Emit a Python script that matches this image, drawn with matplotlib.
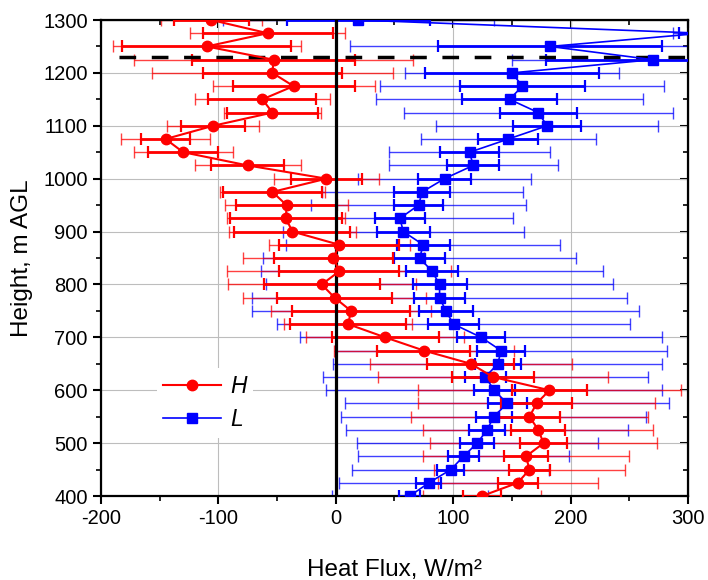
import matplotlib
matplotlib.use("Agg")
import matplotlib.pyplot as plt
from matplotlib.ticker import MultipleLocator

plt.rcParams['font.family'] = ['Liberation Sans', 'DejaVu Sans']
plt.rcParams['axes.unicode_minus'] = False

# heights (m AGL)
heights = [400, 425, 450, 475, 500, 525, 550, 575, 600, 625, 650, 675, 700,
           725, 750, 775, 800, 825, 850, 875, 900, 925, 950, 975, 1000,
           1025, 1050, 1075, 1100, 1125, 1150, 1175, 1200, 1225, 1250, 1275, 1300]

# H series (red)
h_flux = [124.5, 155, 165, 162, 177, 172.5, 165, 171, 182, 134, 115, 75, 42,
          10.5, 13, -1, -12, 3, -2, 3, -37, -42.5, -42, -54, -8,
          -75, -130, -145, -104.5, -54, -62.5, -36, -54, -53, -110, -58, -106]
h_err_in = [16.5, 17, 17.3, 19, 20, 23, 26, 30.6, 32, 35, 37, 39.5, 45.5,
            49.6, 50.4, 49, 49.3, 51, 51, 51, 49.5, 47.6, 43.4, 42, 30,
            31, 30, 20.6, 27.5, 39, 46, 52, 59, 69.4, 72, 55.5, 32]
h_err_out = [50, 68, 81, 88, 97, 98, 100.6, 101, 112, 97.7, 86, 76.5, 67,
             54.7, 68.5, 78, 80, 95.4, 77, 60, 54, 50, 52, 45, 44.6,
             45, 42, 38, 39, 41, 57.7, 69, 102.7, 119, 80, 66, 43]

# L series (blue)
l_flux = [63, 79.3, 98, 108.8, 120.4, 128.9, 134.5, 146, 135, 127.4, 138, 140.8, 123.8,
          100.3, 93.7, 88.4, 88.4, 82, 71.4, 74.5, 57.5, 54.6, 70.5, 73.6, 92.6,
          117, 114, 147, 180, 172.5, 148, 159, 150, 270, 182.4, 312, 19]
l_err_in = [9, 10.6, 11.5, 13, 14.5, 15.3, 15.3, 16.7, 17.3, 17.7, 19.4, 20.4, 20.5,
            22, 23, 22, 23, 22, 21.8, 22.4, 22.4, 21, 21, 23.7, 22.7,
            22.3, 25, 25.5, 29, 33, 40.5, 53, 74, 91, 95.5, 20, 61]
l_err_out = [66.6, 76.5, 84, 90, 102.6, 120, 130, 138, 143, 138.5, 140, 141.6, 154,
             150, 165, 160, 148, 145.6, 133, 116.6, 102.5, 96, 91.5, 85.5, 74,
             72, 68.5, 74.5, 94.6, 114.6, 113.6, 121, 91, 119.5, 170, 25, 115.5]

boundary_height = 1230

fig = plt.figure(figsize=(7.08, 5.8), dpi=100)
ax = fig.add_axes([0.1427, 0.1448, 0.829, 0.8207])

red = '#ff0000'
blue = '#0000ff'

# outer (thin) error bars
ax.errorbar(l_flux, heights, xerr=l_err_out, fmt='none', ecolor=blue, alpha=0.75,
            elinewidth=1.0, capsize=4, capthick=1.0, zorder=2)
ax.errorbar(h_flux, heights, xerr=h_err_out, fmt='none', ecolor=red, alpha=0.75,
            elinewidth=1.0, capsize=4, capthick=1.0, zorder=2)
# inner (thick) error bars
ax.errorbar(l_flux, heights, xerr=l_err_in, fmt='none', ecolor=blue,
            elinewidth=2.0, capsize=4, capthick=1.6, zorder=3)
ax.errorbar(h_flux, heights, xerr=h_err_in, fmt='none', ecolor=red,
            elinewidth=2.0, capsize=4, capthick=1.6, zorder=3)

ax.axvline(0, color='black', lw=2.3, zorder=4)
ax.plot([-185, 300], [boundary_height, boundary_height], color='black', lw=2.5,
        dashes=(4.8, 4.5), zorder=4)

ax.plot(l_flux, heights, color=blue, lw=1.2, marker='s', markersize=6.5,
        label='L', zorder=5)
ax.plot(h_flux, heights, color=red, lw=1.5, marker='o', markersize=7.5,
        label='H', zorder=6)

ax.set_xlim(-200, 300)
ax.set_ylim(400, 1300)
ax.xaxis.set_major_locator(MultipleLocator(100))
ax.xaxis.set_minor_locator(MultipleLocator(50))
ax.yaxis.set_major_locator(MultipleLocator(100))
ax.yaxis.set_minor_locator(MultipleLocator(50))
ax.grid(True, which='major', color='#bdbdbd', lw=0.8, zorder=0)
ax.set_axisbelow(True)

for s in ax.spines.values():
    s.set_linewidth(1.6)
ax.tick_params(which='major', direction='out', length=6, width=1.5, labelsize=14.5)
ax.tick_params(which='minor', direction='out', length=3.5, width=1.2)

secx = ax.secondary_xaxis('top')
secx.xaxis.set_major_locator(MultipleLocator(100))
secx.xaxis.set_minor_locator(MultipleLocator(50))
secx.tick_params(which='major', direction='in', length=6, width=1.5, labeltop=False)
secx.tick_params(which='minor', direction='in', length=3.5, width=1.2)
secy = ax.secondary_yaxis('right')
secy.yaxis.set_major_locator(MultipleLocator(100))
secy.yaxis.set_minor_locator(MultipleLocator(50))
secy.tick_params(which='major', direction='in', length=6, width=1.5, labelright=False)
secy.tick_params(which='minor', direction='in', length=3.5, width=1.2)

ax.set_xlabel('Heat Flux, W/m²', fontsize=17.5, va='center')
ax.xaxis.set_label_coords(0.5, -0.155)
ax.set_ylabel('Height, m AGL', fontsize=17.5, va='center')
ax.yaxis.set_label_coords(-0.135, 0.5)

handles, labels = ax.get_legend_handles_labels()
leg = ax.legend(handles[::-1], labels[::-1], loc='center left',
                bbox_to_anchor=(0.075, 0.196), prop={'style': 'italic', 'size': 16.5},
                frameon=True, facecolor='white', edgecolor='none', framealpha=1,
                handlelength=2.5, handletextpad=0.4, labelspacing=0.44, borderpad=0.3)
leg.set_zorder(7)

fig.savefig('out.png', dpi=100)
